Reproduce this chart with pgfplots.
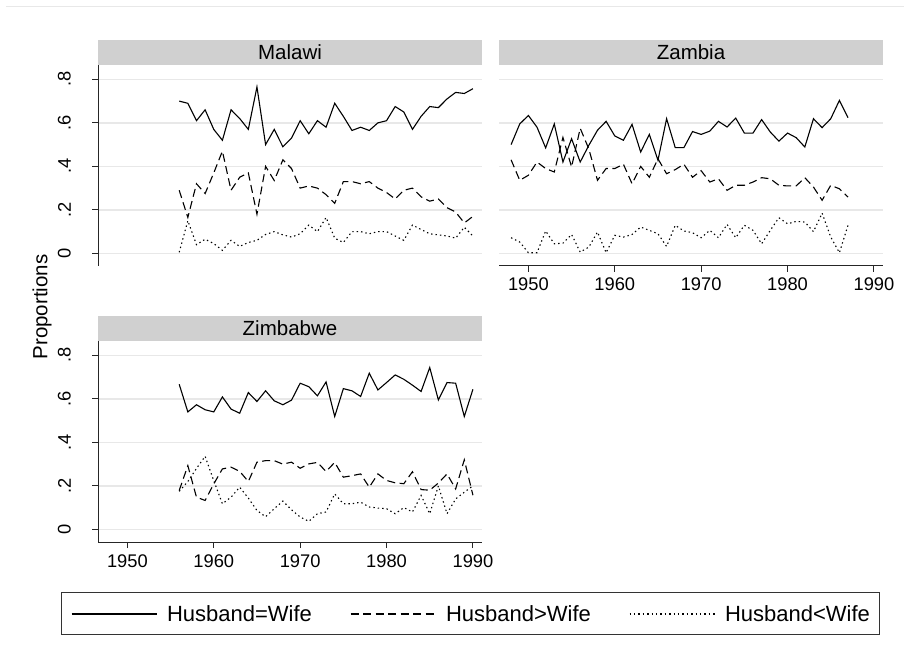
\documentclass[border=0pt]{standalone}
\usepackage{fontspec}
\setmainfont{Liberation Sans}
\usepackage{pgfplots}
\usepackage{pgfplotstable}
\pgfplotsset{compat=1.18}
\definecolor{stripgray}{RGB}{208,208,208}
\definecolor{gridgray}{RGB}{232,232,232}

\pgfplotstableread{
year s d t
1956 0.700 0.290 0.005
1957 0.690 0.165 0.150
1958 0.610 0.320 0.040
1959 0.660 0.275 0.065
1960 0.570 0.370 0.045
1961 0.520 0.470 0.014
1962 0.660 0.290 0.060
1963 0.620 0.350 0.032
1964 0.570 0.370 0.050
1965 0.765 0.180 0.060
1966 0.500 0.400 0.087
1967 0.570 0.335 0.100
1968 0.490 0.430 0.085
1969 0.530 0.390 0.075
1970 0.610 0.300 0.090
1971 0.550 0.310 0.130
1972 0.610 0.300 0.100
1973 0.580 0.270 0.165
1974 0.690 0.230 0.070
1975 0.630 0.330 0.050
1976 0.565 0.330 0.100
1977 0.580 0.320 0.100
1978 0.565 0.330 0.090
1979 0.600 0.300 0.100
1980 0.610 0.280 0.100
1981 0.675 0.250 0.080
1982 0.650 0.290 0.060
1983 0.570 0.300 0.130
1984 0.630 0.260 0.110
1985 0.675 0.240 0.090
1986 0.670 0.250 0.085
1987 0.710 0.210 0.080
1988 0.740 0.190 0.070
1989 0.735 0.140 0.120
1990 0.757 0.170 0.080
}\malawi

\pgfplotstableread{
year s d t
1948 0.500 0.430 0.072
1949 0.595 0.336 0.052
1950 0.634 0.359 0.003
1951 0.580 0.420 0.003
1952 0.485 0.390 0.103
1953 0.595 0.374 0.044
1954 0.420 0.533 0.047
1955 0.527 0.397 0.087
1956 0.420 0.575 0.006
1957 0.497 0.480 0.029
1958 0.566 0.336 0.098
1959 0.607 0.390 0.003
1960 0.540 0.390 0.083
1961 0.520 0.410 0.075
1962 0.593 0.320 0.087
1963 0.466 0.400 0.121
1964 0.547 0.350 0.106
1965 0.428 0.435 0.090
1966 0.619 0.366 0.032
1967 0.486 0.385 0.129
1968 0.486 0.410 0.103
1969 0.560 0.350 0.095
1970 0.547 0.380 0.072
1971 0.562 0.328 0.106
1972 0.607 0.343 0.072
1973 0.581 0.290 0.133
1974 0.622 0.313 0.072
1975 0.553 0.313 0.129
1976 0.553 0.328 0.106
1977 0.615 0.348 0.044
1978 0.558 0.343 0.106
1979 0.516 0.313 0.164
1980 0.553 0.310 0.136
1981 0.532 0.310 0.147
1982 0.489 0.348 0.144
1983 0.619 0.305 0.100
1984 0.578 0.244 0.185
1985 0.619 0.313 0.075
1986 0.703 0.297 0.003
1987 0.624 0.259 0.129
}\zambia

\pgfplotstableread{
year s d t
1956 0.667 0.179 0.175
1957 0.540 0.293 0.220
1958 0.573 0.148 0.280
1959 0.550 0.133 0.336
1960 0.540 0.209 0.224
1961 0.609 0.278 0.118
1962 0.553 0.286 0.148
1963 0.534 0.267 0.194
1964 0.629 0.220 0.144
1965 0.588 0.309 0.087
1966 0.637 0.316 0.058
1967 0.591 0.316 0.095
1968 0.573 0.300 0.130
1969 0.594 0.309 0.090
1970 0.672 0.281 0.057
1971 0.656 0.301 0.037
1972 0.614 0.308 0.072
1973 0.678 0.266 0.080
1974 0.519 0.308 0.163
1975 0.647 0.240 0.118
1976 0.637 0.247 0.118
1977 0.611 0.255 0.125
1978 0.718 0.194 0.103
1979 0.641 0.255 0.098
1980 0.675 0.225 0.095
1981 0.710 0.214 0.072
1982 0.690 0.210 0.100
1983 0.663 0.265 0.080
1984 0.634 0.183 0.156
1985 0.744 0.180 0.072
1986 0.595 0.213 0.200
1987 0.675 0.255 0.072
1988 0.672 0.186 0.140
1989 0.519 0.320 0.171
1990 0.644 0.157 0.200
}\zimbabwe

\pgfplotsset{
  panel/.style={
    scale only axis, width=384pt, height=201pt,
    xmin=1946.6, xmax=1991.05, ymin=-0.058, ymax=0.866,
    ytick={0,0.2,0.4,0.6,0.8}, yticklabels={0,.2,.4,.6,.8},
    xtick={1950,1960,1970,1980,1990}, xticklabels={1950,1960,1970,1980,1990},
    ymajorgrids, major grid style={gridgray, line width=1.4pt},
    axis line style={black!85, line width=1pt},
    tick align=outside, major tick length=6pt,
    tick style={black!85, line width=1pt},
    tick label style={font=\fontsize{18.3}{22}\selectfont, inner sep=0pt},
    xticklabel style={anchor=base, yshift=-19pt},
    yticklabel style={xshift=-21pt, rotate=90, anchor=south},
    every axis title/.style={at={(0.5,1)}, anchor=south, fill=stripgray,
      minimum width=384pt, minimum height=25pt, inner sep=0pt,
      font=\fontsize{20.5}{24}\selectfont},
    clip=false,
  },
  solidl/.style={black, line width=1.1pt},
  dashl/.style={black, line width=1.1pt, dash pattern=on 8pt off 4.5pt},
  dotl/.style={black, line width=1.1pt, dash pattern=on 1.4pt off 3pt},
}

\begin{document}
\begin{tikzpicture}
\useasboundingbox (0pt,0pt) rectangle (904pt,659pt);
\draw[gridgray, line width=1pt] (6pt,652pt) -- (904pt,652pt);

% Malawi
\begin{axis}[panel, at={(98pt,393pt)}, anchor=south west,
  axis y line*=left, hide x axis, title={Malawi}]
  \addplot[solidl] table[x=year,y=s] {\malawi};
  \addplot[dashl] table[x=year,y=d] {\malawi};
  \addplot[dotl] table[x=year,y=t] {\malawi};
\end{axis}

% Zambia
\begin{axis}[panel, at={(499pt,393pt)}, anchor=south west,
  axis x line*=bottom, axis y line*=left,
  y axis line style={draw=none}, ytick style={draw=none}, yticklabels={},
  title={Zambia}]
  \addplot[solidl] table[x=year,y=s] {\zambia};
  \addplot[dashl] table[x=year,y=d] {\zambia};
  \addplot[dotl] table[x=year,y=t] {\zambia};
\end{axis}

% Zimbabwe
\begin{axis}[panel, at={(98pt,117pt)}, anchor=south west,
  axis lines*=left, title={Zimbabwe},
  legend columns=3,
  legend image code/.code={\draw[#1] (0pt,0pt) -- (85pt,0pt);},
  legend style={at={(axis description cs:0.970,-0.358)}, anchor=center,
    draw=black!80, line width=1pt, fill=white,
    inner xsep=9pt, inner ysep=13pt,
    nodes={inner sep=0pt, text depth=0pt},
    cells={anchor=west},
    font=\fontsize{22}{26}\selectfont,
    /tikz/every odd column/.append style={column sep=10pt},
    /tikz/every even column/.append style={column sep=38pt}}]
  \addplot[solidl] table[x=year,y=s] {\zimbabwe};
  \addlegendentry{Husband=Wife}
  \addplot[dashl] table[x=year,y=d] {\zimbabwe};
  \addlegendentry{Husband>Wife}
  \addplot[dotl] table[x=year,y=t] {\zimbabwe};
  \addlegendentry{Husband<Wife}
\end{axis}

\node[rotate=90, font=\fontsize{20.5}{24}\selectfont] at (42pt,352pt) {Proportions};
\end{tikzpicture}
\end{document}
